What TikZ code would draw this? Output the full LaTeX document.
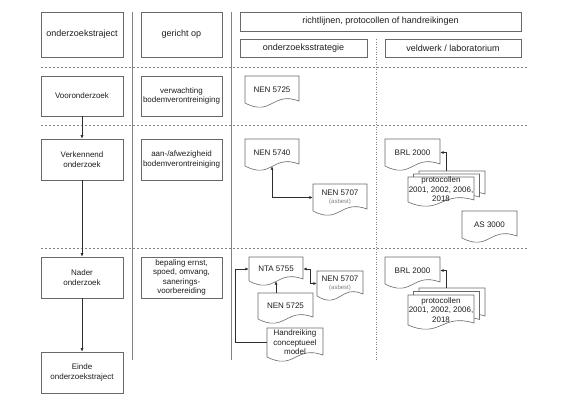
\documentclass[tikz,border=0pt]{standalone}
\usepackage{fontspec}
\setmainfont{Liberation Sans}
\usetikzlibrary{arrows.meta,calc}
\definecolor{linegray}{RGB}{130,130,130}
\definecolor{boxgray}{RGB}{105,105,105}
\definecolor{txt}{RGB}{30,30,30}
\definecolor{conn}{RGB}{45,45,45}
\tikzset{
  hdr/.style={draw=boxgray, line width=0.6pt, text=txt, font=\fontsize{9}{11}\selectfont, inner sep=0pt, align=center},
  stagebox/.style={draw=boxgray, line width=0.6pt, text=txt, font=\fontsize{8}{9.5}\selectfont, inner sep=0pt, align=center},
  doctext/.style={text=txt, font=\fontsize{8}{9.5}\selectfont, inner sep=0pt, align=center},
  docline/.style={draw=boxgray, line width=0.6pt, fill=white},
  sepline/.style={draw=linegray, dash pattern=on 2pt off 2pt, line width=0.6pt},
  colline/.style={draw=linegray, line width=0.9pt},
  dotline/.style={draw=linegray, dash pattern=on 1pt off 1.5pt, line width=0.8pt},
  arr/.style={draw=conn, line width=0.6pt, -{Latex[length=3.5pt,width=3pt]}},
  darr/.style={draw=conn, line width=0.6pt, {Latex[length=3.5pt,width=3pt]}-{Latex[length=3.5pt,width=3pt]}},
}
% name, style, x0, y0, x1, y1, text  (image pixel coordinates, y downward)
\newcommand{\rbox}[7]{%
  \node[#2, minimum width={(#5-#3)*1pt}, minimum height={(#6-#4)*1pt}] (#1) at ({(#3+#5)/2},{-(#4+#6)/2}) {#7};}
% name, x0, ytop, x1, ybottom, text
\newcommand{\docnode}[6]{%
  \path[docline] (#2,-#3) -- (#4,-#3) -- (#4,{-(#5-6)}) .. controls ({(#2+#4)/2},{-(#5-16)}) and ({(#2+#4)/2},{-(#5+10)}) .. (#2,{-(#5-4)}) -- cycle;
  \node[doctext, minimum width={(#4-#2)*1pt}, minimum height={(#5-4-#3)*1pt}] (#1) at ({(#2+#4)/2},{-(#3+#5-4)/2}) {#6};}
\newcommand{\asb}{{\fontsize{6}{7}\selectfont\textcolor{gray}{(asbest)}}}
\begin{document}
\begin{tikzpicture}[x=1pt,y=1pt]
\useasboundingbox (0,0) rectangle (570,-400);
\fill[white] (0,0) rectangle (570,-400);

% column lines
\coordinate (c1t) at (132,-12); \coordinate (c1b) at (132,-360);
\coordinate (c2t) at (231,-12); \coordinate (c2b) at (231,-360);
\coordinate (c3t) at (376,-39); \coordinate (c3b) at (376,-360);
\draw[colline] (c1t) -- (c1b);
\draw[colline] (c2t) -- (c2b);
\draw[dotline] (c3t) -- (c3b);

% row separators
\coordinate (s1l) at (41,-67);  \coordinate (s1r) at (527,-67);
\coordinate (s2l) at (41,-125); \coordinate (s2r) at (527,-125);
\coordinate (s3l) at (41,-248); \coordinate (s3r) at (527,-248);
\draw[sepline] (s1l) -- (s1r);
\draw[sepline] (s2l) -- (s2r);
\draw[sepline] (s3l) -- (s3r);

% headers
\rbox{h1}{hdr}{41}{12}{123}{57}{onderzoekstraject}
\rbox{h2}{hdr}{141}{12}{222}{57}{gericht op}
\rbox{h3}{hdr}{240}{12}{521}{31}{richtlijnen, protocollen of handreikingen}
\rbox{h4}{hdr}{240}{39}{367}{57}{onderzoeksstrategie}
\rbox{h5}{hdr}{385}{39}{521}{57}{veldwerk / laboratorium}

% stages
\rbox{voor}{stagebox}{41}{76}{123}{116}{Vooronderzoek}
\rbox{verk}{stagebox}{41}{139}{123}{180}{Verkennend\\onderzoek}
\rbox{nader}{stagebox}{41}{257}{123}{298}{Nader\\onderzoek}
\rbox{einde}{stagebox}{41}{352}{123}{393}{Einde\\onderzoekstraject}

\rbox{g1}{stagebox}{141}{76}{222}{116}{verwachting\\bodemverontreiniging}
\rbox{g2}{stagebox}{141}{139}{222}{180}{aan-/afwezigheid\\bodemverontreiniging}
\rbox{g3}{stagebox}{141}{257}{222}{298}{bepaling ernst,\\spoed, omvang,\\sanerings-\\voorbereiding}

% documents row 1
\docnode{nen5725a}{245}{76}{299}{107}{NEN 5725}

% documents row 2
\docnode{nen5740}{245}{139}{299}{170}{NEN 5740}
\docnode{nen5707a}{313}{184}{367}{215}{NEN 5707\\[-1pt]\asb}
\docnode{brlA}{385}{139}{440}{170}{BRL 2000}
\docnode{pA3}{419}{171}{485}{200}{}
\docnode{pA2}{413.5}{174}{479.5}{203}{}
\docnode{pA1}{408}{177}{474}{206}{protocollen\\2001, 2002, 2006,\\2018}
\docnode{as3000}{462}{211}{517}{242}{AS 3000}

% documents row 3
\docnode{nta}{249}{257}{303}{285}{NTA 5755}
\docnode{nen5707b}{317}{271}{363}{300}{NEN 5707\\[-1pt]\asb}
\docnode{nen5725b}{258}{293}{313}{323}{NEN 5725}
\docnode{hand}{267}{328}{323}{361}{Handreiking\\conceptueel\\model}
\docnode{brlB}{385}{257}{440}{288}{BRL 2000}
\docnode{pB3}{419}{288}{485}{322}{}
\docnode{pB2}{413.5}{291.5}{479.5}{325.5}{}
\docnode{pB1}{408}{295}{474}{329}{protocollen\\2001, 2002, 2006,\\2018}

% connectors
\draw[arr] (voor) -- (verk);
\draw[arr] (verk) -- (nader);
\draw[arr] (nader) -- (einde);

\draw[darr] (nen5740.south) |- (nen5707a.west);
\draw[arr] ([xshift=-5.5pt]pA3.north) |- (brlA.east);

\draw[darr] (nta.east) -- ++(7,0) |- (nen5707b.west);
\draw[arr] (nta.south |- nen5725b.north) -- (nta.south);
\draw[arr] (hand.west) -| ([xshift=-14pt]nta.west) -- (nta.west);
\draw[arr] ([xshift=-5.5pt]pB3.north) |- (brlB.east);
\end{tikzpicture}
\end{document}
